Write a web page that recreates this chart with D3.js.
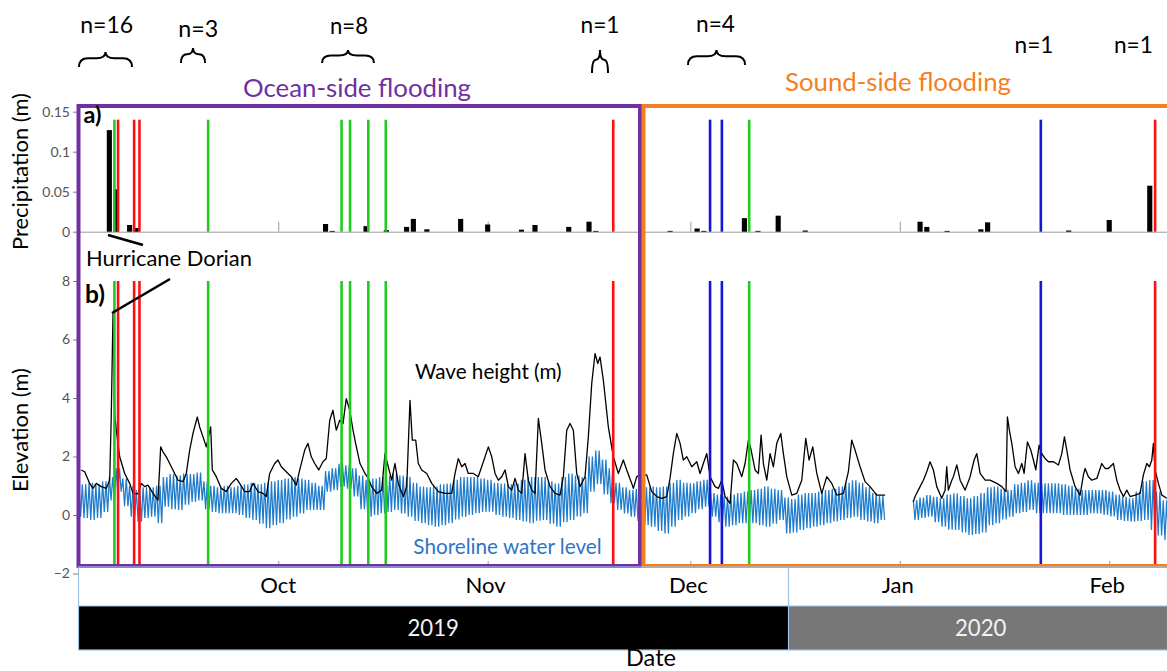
<!DOCTYPE html>
<html><head><meta charset="utf-8">
<script src="https://cdn.jsdelivr.net/npm/d3@7"></script>
<style>
body{margin:0;background:#fff}
svg{display:block}
text{font-family:Lato,"Open Sans",sans-serif}
</style>
</head><body>
<svg id="c" width="1167" height="671"></svg>
<script>
// ---------------- DATA ----------------
// Daily precipitation (m)
const rainDates = ["2019-09-06","2019-09-07","2019-09-09","2019-09-10","2019-10-08","2019-10-09","2019-10-14","2019-10-17",
  "2019-10-20","2019-10-21","2019-10-23","2019-10-28","2019-11-01","2019-11-06","2019-11-08","2019-11-13","2019-11-16",
  "2019-11-17","2019-11-28","2019-12-02","2019-12-03","2019-12-09","2019-12-11","2019-12-14","2019-12-18","2020-01-04",
  "2020-01-05","2020-01-08","2020-01-13","2020-01-14","2020-01-26","2020-02-01","2020-02-07"];
const rainValues = [0.127,0.053,0.0084,0.0046,0.0096,0.001,0.007,0.002,0.006,0.016,0.003,0.016,0.009,0.0025,0.0084,0.006,0.0125,
  0.001,0.001,0.004,0.001,0.017,0.001,0.02,0.0015,0.0125,0.006,0.001,0.003,0.0117,0.0015,0.0146,0.0575];

// Flooding events (time, type)
const eventTimes = ["2019-09-06T18:00","2019-09-07T07:00","2019-09-09T16:00","2019-09-10T11:00","2019-09-20T15:00",
  "2019-10-10T09:00","2019-10-11T15:00","2019-10-14T08:00","2019-10-16T22:00","2019-11-19T14:00",
  "2019-12-03T22:00","2019-12-05T16:00","2019-12-09T17:00","2020-01-21T21:00","2020-02-07T19:00"];
const eventTypes = ["g","r","r","r","g","g","g","g","g","r","b","b","g","b","r"];

// Wave height (m): [days since 2019-09-01, value]; null = data gap
const wave = [[0.84,1.54],[1.35,1.48],[2.09,1.08],[2.58,0.91],[3.06,1.08],[3.8,0.97],[4.54,0.91],[5.05,1.19],[5.28,3.35],
 [5.54,6.88],[5.79,3.47],[6.03,2.9],[6.53,1.99],[7.27,1.42],[8.01,1.08],[8.5,0.74],[9.24,0.72],[9.73,1.08],[10.23,0.97],
 [10.72,1.02],[11.46,0.74],[12.2,0.51],[12.6,2.33],[12.94,2.16],[13.43,1.99],[14.17,1.65],[15.16,1.19],[15.9,1.14],
 [16.39,1.42],[16.89,2.22],[17.38,2.79],[18.02,3.35],[18.37,3.01],[18.86,2.67],[19.35,2.33],[20.0,3.01],[20.24,1.54],
 [20.83,1.31],[21.57,0.91],[22.31,0.8],[23.05,1.08],[23.79,1.25],[24.29,1.08],[25.03,0.8],[25.77,0.8],[26.26,1.08],
 [27.0,0.8],[27.74,0.74],[28.23,0.63],[28.73,1.42],[29.47,1.76],[29.96,1.88],[30.45,1.65],[31.19,1.48],[31.93,1.31],
 [32.67,1.02],[33.18,1.54],[33.92,2.22],[34.4,2.45],[34.89,1.99],[35.4,1.76],[35.99,1.54],[36.62,1.82],[37.11,1.93],
 [37.62,3.24],[38.1,3.58],[38.59,2.9],[39.1,3.24],[39.59,3.13],[40.07,3.98],[40.58,3.58],[41.07,2.9],[41.45,2.45],
 [42.1,1.76],[42.84,1.42],[43.33,1.25],[43.83,0.97],[44.57,0.74],[45.31,0.85],[45.8,2.1],[46.29,1.65],[46.79,1.19],
 [47.28,1.76],[47.77,1.08],[48.51,0.63],[49.02,0.97],[49.5,3.92],[49.84,2.56],[50.35,2.56],[50.73,1.76],[51.24,1.54],
 [51.98,1.42],[52.72,1.08],[53.69,0.8],[54.69,0.74],[55.68,0.74],[56.17,1.42],[56.65,1.93],[57.16,1.65],[57.65,1.76],
 [58.13,1.42],[58.87,1.42],[59.61,1.31],[60.36,1.82],[61.1,2.33],[61.6,1.99],[62.09,1.42],[62.58,1.19],[63.08,1.31],
 [63.57,1.54],[64.06,0.97],[64.56,0.85],[65.05,1.25],[65.54,0.85],[66.04,0.74],[66.53,2.1],[67.02,1.19],[67.52,0.85],
 [68.01,0.74],[68.5,3.3],[69.0,2.45],[69.49,1.54],[70.23,0.97],[70.97,0.74],[71.71,0.68],[72.2,1.31],[72.7,2.9],
 [73.19,3.13],[73.68,2.9],[74.18,1.42],[74.67,0.97],[75.41,1.31],[75.9,2.67],[76.4,4.49],[76.89,5.52],[77.29,5.18],
 [77.63,5.4],[78.12,4.61],[78.86,3.01],[79.6,1.99],[80.34,1.42],[81.08,1.88],[81.58,1.54],[82.32,1.08],[82.56,0.91],
 [83.06,1.31],[83.55,1.37],[84.54,1.37],[85.28,0.8],[86.03,0.63],[86.77,0.57],[87.51,0.63],[87.99,1.25],[88.48,2.1],
 [88.99,2.79],[89.48,2.45],[89.96,1.88],[90.47,1.99],[91.21,1.65],[91.95,1.82],[92.44,1.42],[92.92,1.76],[93.43,2.1],
 [93.92,1.31],[94.66,0.97],[95.14,0.91],[95.65,1.19],[96.14,0.63],[96.88,0.4],[97.37,1.88],[97.87,1.76],[98.61,1.31],
 [99.1,1.76],[99.59,2.56],[99.94,2.28],[100.58,1.54],[101.07,1.42],[101.47,2.73],[101.81,1.76],[102.31,1.19],[102.8,2.1],
 [103.29,1.65],[103.79,2.45],[104.38,2.79],[104.77,2.1],[105.27,1.31],[106.01,0.68],[106.75,0.74],[107.49,1.19],
 [108.08,2.62],[108.57,1.88],[109.12,2.33],[109.71,1.42],[110.45,0.74],[111.19,1.31],[111.93,1.08],[112.67,0.68],
 [113.65,0.74],[114.39,1.48],[114.89,2.56],[115.38,2.22],[116.12,1.65],[116.86,1.14],[117.6,0.97],[118.59,0.68],
 [119.82,0.68],[122,null],[124.01,0.45],[124.26,0.63],[125.0,0.97],[125.49,1.19],[125.99,1.48],[126.48,1.82],[126.97,1.54],
 [127.47,0.97],[128.21,0.57],[128.7,0.85],[128.95,1.65],[129.19,0.85],[129.7,1.19],[129.93,1.31],[130.44,1.71],
 [130.93,1.19],[131.67,0.85],[132.41,1.31],[133.0,1.88],[133.4,2.1],[133.89,1.42],[134.63,1.19],[135.37,1.19],
 [136.36,1.08],[137.1,0.97],[137.73,0.8],[137.93,3.35],[138.22,2.9],[138.58,2.45],[139.07,1.65],[139.56,1.42],
 [140.06,1.76],[140.4,1.42],[140.89,2.5],[141.39,2.22],[141.78,1.88],[142.13,1.54],[142.62,2.39],[143.02,2.1],
 [143.51,1.93],[144.0,1.82],[144.74,1.82],[145.48,1.71],[145.98,2.1],[146.37,2.67],[146.72,2.22],[147.21,1.54],
 [147.95,0.97],[148.69,0.68],[149.18,1.37],[149.43,1.59],[149.92,1.31],[150.42,1.19],[151.16,1.25],[151.9,1.76],
 [152.39,1.59],[152.88,1.59],[153.62,1.76],[154.12,1.19],[154.61,0.85],[155.1,0.63],[155.6,0.85],[156.09,0.63],
 [156.83,0.68],[157.57,0.74],[158.06,1.37],[158.56,1.76],[158.95,1.65],[159.3,1.88],[159.54,2.45],[159.79,1.54],
 [160.28,1.08],[160.79,0.68],[161.53,0.57]];

// Shoreline water level (m): daily tidal high and low, day 0 = 2019-09-01; null = data gap
const tideHigh = [1.0,1.05,1.1,1.05,1.15,1.3,1.6,1.25,1.0,0.85,
 0.95,0.95,1.0,1.3,1.4,1.35,1.42,1.4,1.45,1.15,
 1.0,0.95,1.0,0.95,1.0,1.05,1.1,1.05,1.1,1.15,
 1.2,1.25,1.3,1.25,1.2,1.1,1.0,1.5,1.6,1.75,
 1.7,1.6,1.35,1.2,1.25,1.3,1.35,1.42,1.35,1.3,
 1.1,0.97,0.95,0.97,1.05,1.08,1.2,1.3,1.3,1.3,
 1.25,1.2,1.1,1.08,1.05,1.08,1.2,1.3,1.3,1.3,
 1.15,1.08,1.3,1.42,1.35,1.3,2.0,2.2,1.9,1.6,
 1.1,0.95,0.85,0.9,0.95,0.97,0.95,0.97,1.1,1.2,
 1.1,1.08,1.15,1.2,0.75,0.7,0.63,0.7,0.75,0.8,
 0.85,0.9,0.97,0.9,0.85,0.6,0.55,0.7,0.75,0.75,
 0.8,0.85,0.9,0.97,1.1,1.19,1.1,0.95,0.75,0.65,
 null,null,null,null,0.51,0.6,0.68,0.62,0.57,0.7,
 0.74,0.65,0.57,0.65,0.75,0.95,0.97,0.9,0.85,1.05,
 1.1,1.19,1.1,1.08,1.08,1.08,1.05,1.0,0.9,0.85,
 0.85,0.85,0.85,0.8,0.7,0.62,0.57,0.8,1.15,1.2,
 0.8,0.5];
const tideLow = [-0.06,-0.1,-0.17,-0.1,0.1,0.5,0.8,0.3,-0.06,-0.23,
 -0.1,-0.06,-0.28,0.28,0.2,0.17,0.35,0.45,0.5,0.2,
 0.1,0.06,0.06,0.06,0.0,-0.1,-0.17,-0.3,-0.45,-0.35,
 -0.28,-0.15,-0.06,0.05,0.17,0.17,0.17,0.8,0.85,0.97,
 0.9,0.63,0.2,-0.06,0.0,0.06,0.1,0.17,0.05,-0.06,
 -0.2,-0.28,-0.35,-0.4,-0.35,-0.28,-0.15,-0.06,0.0,0.06,
 0.1,0.11,0.0,-0.06,-0.1,-0.17,-0.22,-0.28,-0.2,-0.17,
 -0.3,-0.4,-0.25,-0.17,-0.05,0.06,0.8,1.05,0.7,0.4,
 0.17,0.05,-0.06,-0.2,-0.35,-0.4,-0.55,-0.63,-0.4,-0.17,
 -0.05,0.06,0.2,0.28,-0.06,-0.25,-0.4,-0.35,-0.28,-0.28,
 -0.28,-0.35,-0.4,-0.3,-0.17,-0.63,-0.6,-0.51,-0.45,-0.4,
 -0.35,-0.28,-0.22,-0.17,-0.1,-0.06,-0.17,-0.22,-0.28,-0.17,
 null,null,null,null,-0.17,-0.1,-0.06,-0.25,-0.4,-0.5,
 -0.51,-0.6,-0.68,-0.65,-0.6,-0.35,-0.28,-0.15,-0.06,0.06,
 0.1,0.17,0.06,0.06,0.06,0.06,0.0,0.0,0.0,0.0,
 0.06,0.05,0.0,-0.05,-0.17,-0.2,-0.23,-0.2,-0.17,-0.51,
 -0.7,-0.85];

const precipTicks = [0, 0.05, 0.1, 0.15];
const elevTicks = [-2, 0, 2, 4, 6, 8];
const countLabels = ["n=16","n=3","n=8","n=1","n=4","n=1","n=1"];
const yearLabels = ["2019","2020"];

// ---------------- SETUP ----------------
const DAY = 86400000;
const origin = Date.UTC(2019, 8, 1);
const dayToDate = d => new Date(origin + d * DAY);
const parseDay = d3.utcParse("%Y-%m-%d");
const parseTime = d3.utcParse("%Y-%m-%dT%H:%M");

const L = 78, R = 1168;
const x = d3.scaleUtc().domain([dayToDate(0.36), dayToDate(161.7)]).range([L, R]);
const yP = d3.scaleLinear().domain([0, 0.15]).range([231.7, 111.7]);
const yE = d3.scaleLinear().domain([-2, 8]).range([573.5, 281]);
const boxBottom = 566;
const eventColor = {g: "#1ecb1e", r: "#ff1010", b: "#1515d6"};

const svg = d3.select("#c");
svg.append("defs").append("clipPath").attr("id", "clip")
  .append("rect").attr("x", L).attr("y", 100).attr("width", 1167 - L).attr("height", 470);

function fitText(sel, w) {
  sel.attr("font-size", 20);
  const len = sel.node().getComputedTextLength();
  sel.attr("font-size", (20 * w / len).toFixed(2));
}
function label(txt, cx, baseline, w, opts = {}) {
  const t = svg.append("text").text(txt).attr("x", cx).attr("y", baseline)
    .attr("text-anchor", "middle").attr("fill", opts.fill || "#000")
    .attr("font-weight", opts.weight || "normal");
  if (opts.rotate) t.attr("transform", `rotate(-90,${cx},${baseline})`);
  fitText(t, w);
  return t;
}

// ---------------- AXES ----------------
const tickStyle = g => {
  g.select(".domain").remove();
  g.selectAll(".tick line").attr("stroke", "#808080");
  g.selectAll(".tick text").attr("fill", "#555").attr("font-size", 14)
    .attr("font-family", "'Liberation Sans', Arial, sans-serif");
};
svg.append("g").attr("transform", `translate(${L},0)`)
  .call(d3.axisLeft(yP).tickValues(precipTicks).tickSize(5).tickPadding(3).tickFormat(d3.format("~g")))
  .call(tickStyle);
svg.append("g").attr("transform", `translate(${L},0)`)
  .call(d3.axisLeft(yE).tickValues(elevTicks).tickSize(5).tickPadding(3).tickFormat(d3.format("~g")))
  .call(tickStyle);

// precip baseline with upward month ticks
const pb = svg.append("g").attr("transform", `translate(0,${yP(0)})`)
  .call(d3.axisTop(x).ticks(d3.utcMonth.every(1)).tickSize(10).tickSizeOuter(0).tickFormat(""));
pb.select(".domain").attr("stroke", "#9a9a9a");
pb.selectAll(".tick line").attr("stroke", "#9a9a9a");
// elevation bottom ticks
const eb = svg.append("g").attr("transform", `translate(0,${boxBottom})`)
  .call(d3.axisTop(x).ticks(d3.utcMonth.every(1)).tickSize(5).tickSizeOuter(0).tickFormat(""));
eb.select(".domain").remove();
eb.selectAll(".tick line").attr("stroke", "#9a9a9a");

// ---------------- MARKS ----------------
const plot = svg.append("g").attr("clip-path", "url(#clip)");

// precipitation bars
const rain = rainDates.map((d, i) => ({t: parseDay(d), v: rainValues[i]}));
const halfBar = 0.38 * DAY;
plot.selectAll("rect.bar").data(rain).join("rect").attr("class", "bar")
  .attr("x", d => x(new Date(+d.t - halfBar)))
  .attr("width", d => x(new Date(+d.t + halfBar)) - x(new Date(+d.t - halfBar)))
  .attr("y", d => yP(d.v)).attr("height", d => yP(0) - yP(d.v))
  .attr("fill", "#000");

// water level (tidal), 4 samples per day: high, low, high, low
const tide = [];
tideHigh.forEach((h, i) => {
  const lo = tideLow[i];
  tide.push([i, h], [i + 0.25, lo], [i + 0.5, h], [i + 0.75, lo]);
});
const lineGen = d3.line().defined(d => d[1] != null)
  .x(d => x(dayToDate(d[0]))).y(d => yE(d[1]));
plot.append("path").datum(tide).attr("d", lineGen)
  .attr("fill", "none").attr("stroke", "#1f7ccc").attr("stroke-width", 1.25);

// wave height
plot.append("path").datum(wave).attr("d", lineGen)
  .attr("fill", "none").attr("stroke", "#000").attr("stroke-width", 1.3).attr("stroke-linejoin", "round");

// flooding event lines
const events = eventTimes.map((t, i) => ({t: parseTime(t), c: eventColor[eventTypes[i]]}));
[[yP(0.14), yP(0)], [yE(8), boxBottom]].forEach(([y1, y2]) => {
  plot.append("g").selectAll("line").data(events).join("line")
    .attr("x1", d => x(d.t)).attr("x2", d => x(d.t))
    .attr("y1", y1).attr("y2", y2)
    .attr("stroke", d => d.c).attr("stroke-width", 2.6);
});

// ---------------- FLOODING BOXES ----------------
svg.append("rect").attr("x", 78.5).attr("y", 106).attr("width", 561.5).attr("height", boxBottom - 106)
  .attr("fill", "none").attr("stroke", "#7030a0").attr("stroke-width", 4);
svg.append("rect").attr("x", 643.5).attr("y", 106).attr("width", 540).attr("height", boxBottom - 106)
  .attr("fill", "none").attr("stroke", "#f47f22").attr("stroke-width", 4);

// ---------------- DATE TABLE ----------------
const tTop = 567, tMid = 606, tBot = 650, ySplit = 788.5;
svg.append("rect").attr("x", L).attr("y", tMid).attr("width", ySplit - L).attr("height", tBot - tMid).attr("fill", "#000");
svg.append("rect").attr("x", ySplit).attr("y", tMid).attr("width", 1167 - ySplit).attr("height", tBot - tMid).attr("fill", "#777");
svg.append("rect").attr("x", L + 0.5).attr("y", tTop).attr("width", 1167 - L).attr("height", tBot - tTop)
  .attr("fill", "none").attr("stroke", "#9dc3e6").attr("stroke-width", 1.2);
svg.append("line").attr("x1", L).attr("x2", 1167).attr("y1", tMid).attr("y2", tMid).attr("stroke", "#9dc3e6").attr("stroke-width", 1.2);
svg.append("line").attr("x1", ySplit).attr("x2", ySplit).attr("y1", tTop).attr("y2", tBot).attr("stroke", "#9dc3e6").attr("stroke-width", 1.2);

// month labels
const months = x.ticks(d3.utcMonth.every(1));
const fmt = d3.utcFormat("%b");
const mt = label(fmt(months[0]), x(months[0]), 593, 36);
const mSize = mt.attr("font-size");
months.slice(1).forEach(m => {
  svg.append("text").text(fmt(m)).attr("x", x(m) - 2).attr("y", 593).attr("text-anchor", "middle")
    .attr("font-size", mSize).attr("fill", "#000");
});
// year labels
label(yearLabels[0], (L + ySplit) / 2, 636, 51.5, {fill: "#f2f2f2"});
label(yearLabels[1], (ySplit + 1167) / 2 + 3, 636, 51.5, {fill: "#f2f2f2"});
label("Date", 651, 666, 50);

// ---------------- TEXT ANNOTATIONS ----------------
label("Precipitation (m)", 28, 171.5, 157, {rotate: true});
label("Elevation (m)", 28, 430, 124, {rotate: true});
label("Ocean-side flooding", 357, 97, 228, {fill: "#7030a0"});
label("Sound-side flooding", 898, 90.5, 226, {fill: "#f47f22"});
label("a)", 92.5, 123, 18, {weight: "bold"});
label("b)", 95, 303, 20, {weight: "bold"});
label("Hurricane Dorian", 169, 266, 166);
label("Wave height (m)", 488.3, 378.5, 146.7);
label("Shoreline water level", 507.5, 554, 188.4, {fill: "#2e75c6"});

// Hurricane Dorian pointer lines
[[108, 235, 143, 245], [112, 313, 170, 279]].forEach(([a, b, c, d]) => {
  svg.append("line").attr("x1", a).attr("y1", b).attr("x2", c).attr("y2", d)
    .attr("stroke", "#000").attr("stroke-width", 2.6);
});

// count labels and braces
const countPos = [[106.7, 33.3, 53], [198.3, 36.7, 40], [349, 34.3, 38], [600, 33.3, 39], [715.5, 32.3, 39], [1034, 52.7, 39], [1133.4, 52.7, 39]];
countLabels.forEach((t, i) => label(t, countPos[i][0], countPos[i][1], countPos[i][2]));
const braces = [[79, 132, 52, 67], [181, 205, 48, 63], [322, 374, 50, 63], [592, 608, 50, 73], [688, 745, 50, 65]];
braces.forEach(([x0, x1, yt, yb]) => {
  const xm = (x0 + x1) / 2, ym = yt + (yb - yt) * 0.42, r = Math.min(9, (x1 - x0) / 4);
  const p = `M${x0},${yb} Q${x0},${ym} ${x0 + r},${ym} L${xm - r},${ym} Q${xm},${ym} ${xm},${yt} ` +
            `Q${xm},${ym} ${xm + r},${ym} L${x1 - r},${ym} Q${x1},${ym} ${x1},${yb}`;
  svg.append("path").attr("d", p).attr("fill", "none").attr("stroke", "#000").attr("stroke-width", 2);
});
</script>
</body></html>
